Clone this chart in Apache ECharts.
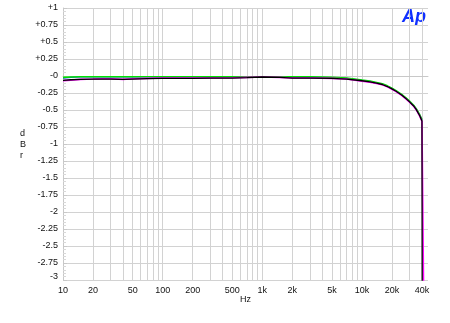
<!DOCTYPE html>
<html><head><meta charset="utf-8">
<script src="https://cdn.jsdelivr.net/npm/echarts@6/dist/echarts.min.js"></script>
<style>html,body{margin:0;padding:0;background:#fff}#c{width:450px;height:323px}</style>
</head><body><div id="c"></div>
<script>
var freqs = [10,12,15,20,25,30,40,50,70,100,150,200,300,500,700,1000,1500,2000,3000,5000,7000,10000,12000,14000,16000,18000,20000,22000,25000,28000,30000,33000,35000,38000,40000];
var greenDb   = [-0.02,-0.015,-0.01,-0.01,-0.01,-0.01,-0.01,-0.01,-0.01,-0.01,-0.01,-0.01,-0.01,-0.01,-0.01,-0.01,-0.01,-0.01,-0.01,-0.02,-0.03,-0.06,-0.075,-0.095,-0.115,-0.145,-0.18,-0.215,-0.27,-0.33,-0.37,-0.43,-0.48,-0.57,-0.64];
var blueDb    = [-0.03,-0.02,-0.015,-0.012,-0.012,-0.012,-0.012,-0.015,-0.015,-0.012,-0.012,-0.015,-0.015,-0.015,-0.012,-0.01,-0.012,-0.02,-0.02,-0.022,-0.035,-0.065,-0.08,-0.1,-0.12,-0.15,-0.185,-0.22,-0.275,-0.335,-0.375,-0.435,-0.485,-0.575,-0.645];
var magentaDb = [-0.07,-0.06,-0.05,-0.045,-0.04,-0.04,-0.05,-0.04,-0.035,-0.03,-0.03,-0.03,-0.03,-0.025,-0.02,-0.015,-0.02,-0.03,-0.03,-0.035,-0.045,-0.075,-0.09,-0.11,-0.13,-0.16,-0.195,-0.23,-0.285,-0.345,-0.385,-0.445,-0.495,-0.59,-0.67];
var blackDb   = [-0.065,-0.055,-0.05,-0.045,-0.045,-0.045,-0.05,-0.045,-0.04,-0.035,-0.035,-0.035,-0.03,-0.03,-0.025,-0.015,-0.02,-0.03,-0.03,-0.035,-0.045,-0.07,-0.085,-0.105,-0.125,-0.155,-0.19,-0.225,-0.28,-0.34,-0.38,-0.44,-0.49,-0.585,-0.66];
var dropFreqBlack = 40300, dropDbBlack = -4;
var dropFreqMagenta = 41500, dropDbMagenta = -3.1;
var xTickFreqs = [10,20,30,40,50,60,70,80,90,100,200,300,400,500,600,700,800,900,1000,2000,3000,4000,5000,6000,7000,8000,9000,10000,20000,30000,40000];
var xLabelFreqs = [10,20,50,100,200,500,1000,2000,5000,10000,20000,40000];
var xLabelText = ['10','20','50','100','200','500','1k','2k','5k','10k','20k','40k'];

function lg(f){return Math.log10(f);}
function pts(db, extraF, extraDb){
  var a = freqs.map(function(f,i){return [lg(f), db[i]];});
  if (extraF) a.push([lg(extraF), extraDb]);
  return a;
}
function lbl(v){
  for (var i=0;i<xLabelFreqs.length;i++){ if (Math.abs(lg(xLabelFreqs[i])-v)<1e-6) return xLabelText[i]; }
  return '';
}
function ylbl(v){
  var s;
  if (v>0) s='+'+v; else if (v===0) s='-0'; else s=String(v);
  if (v===-3) return '{up|'+s+'}';
  return s;
}
var chart = echarts.init(document.getElementById('c'), null, {renderer:'canvas'});
var font = 'Liberation Sans, Arial, sans-serif';
chart.setOption({
  animation:false,
  backgroundColor:'#fff',
  grid:{left:63,right:22,top:8,bottom:43,containLabel:false},
  xAxis:{type:'value',min:1,max:lg(46000),
    axisLine:{show:true,lineStyle:{color:'#c8c8c8'}},
    axisTick:{show:false,customValues:xTickFreqs.map(lg)},
    axisLabel:{customValues:xLabelFreqs.map(lg),formatter:lbl,color:'#111',fontSize:9,fontFamily:font,margin:6,showMinLabel:true,showMaxLabel:true},
    splitLine:{show:true,lineStyle:{color:'#d2d2d2',width:1}}
  },
  yAxis:{type:'value',min:-3,max:1,interval:0.25,
    axisLine:{show:true,lineStyle:{color:'#c8c8c8'}},
    axisTick:{show:true,inside:true,length:4,lineStyle:{color:'#c8c8c8'}},
    minorTick:{show:true,splitNumber:5,length:3,lineStyle:{color:'#d8d8d8'}},
    axisLabel:{formatter:ylbl,color:'#111',fontSize:9,fontFamily:font,margin:5,rich:{up:{fontSize:9,fontFamily:font,color:'#111',padding:[0,0,6,0]}}},
    splitLine:{show:true,lineStyle:{color:'#d2d2d2',width:1}}
  },
  series:[
    {type:'line',data:pts(blueDb),showSymbol:false,lineStyle:{color:'#2040ff',width:1.2},itemStyle:{color:'#2040ff'},z:2},
    {type:'line',data:pts(greenDb),showSymbol:false,lineStyle:{color:'#00e000',width:1.6},itemStyle:{color:'#00e000'},z:3},
    {type:'line',data:pts(magentaDb,dropFreqMagenta,dropDbMagenta),showSymbol:false,lineStyle:{color:'#ff00ff',width:1.6},itemStyle:{color:'#ff00ff'},z:4},
    {type:'line',data:pts(blackDb,dropFreqBlack,dropDbBlack),showSymbol:false,lineStyle:{color:'#000',width:1.3},itemStyle:{color:'#000'},z:5}
  ],
  graphic:[
    {type:'text',left:402,top:8,style:{text:'Ap',fill:'#1030ff',font:'italic bold 18px Liberation Sans, Arial, sans-serif'}},
    {type:'text',left:20,top:128,style:{text:'d\nB\nr',fill:'#111',font:'9px Liberation Sans, Arial, sans-serif',lineHeight:11,align:'center'}},
    {type:'text',left:240,top:295,style:{text:'Hz',fill:'#111',font:'9px Liberation Sans, Arial, sans-serif'}}
  ]
});
</script></body></html>
